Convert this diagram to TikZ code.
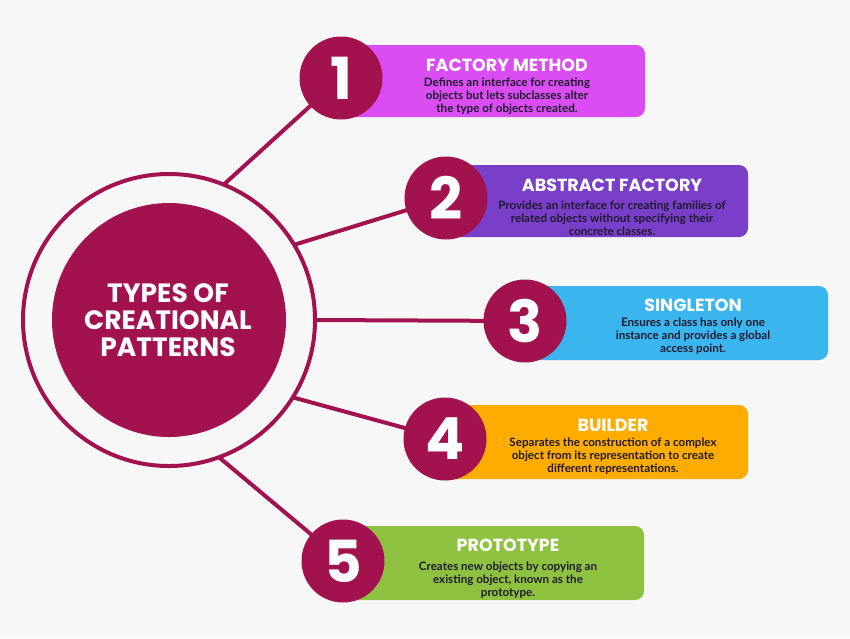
\documentclass[tikz,border=0pt]{standalone}
\usepackage{fontspec}
\setmainfont{Lato}
\newfontfamily\headfont{Poppins}
\definecolor{bgc}{HTML}{F7F7F7}
\definecolor{crim}{HTML}{A1124F}
\definecolor{cfm}{HTML}{DA4DF2}
\definecolor{caf}{HTML}{7A3FC8}
\definecolor{csg}{HTML}{3BB5EE}
\definecolor{cbd}{HTML}{FFAC00}
\definecolor{cpt}{HTML}{8EC13F}
\definecolor{txt}{HTML}{1F1A2E}
\tikzset{
  numc/.style={circle, fill=crim, minimum size=83pt, inner sep=0pt, text=white,
    font=\headfont\bfseries\fontsize{58}{58}\selectfont},
  boxc/.style={rounded corners=9pt, draw=none},
  ttl/.style={text=white, font=\headfont\bfseries\fontsize{17.5}{20}\selectfont, anchor=center},
  bdy/.style={text=txt, align=center, font=\bfseries\fontsize{11.6}{12.8}\selectfont, anchor=center},
  conn/.style={crim, line width=4pt}
}
\begin{document}
\begin{tikzpicture}[x=1pt,y=-1pt]
\fill[bgc] (0,0) rectangle (850,638);
\useasboundingbox (0,0) rectangle (850,638);
% central
\node[circle, draw=crim, line width=4pt, minimum size=292pt, inner sep=0pt, outer sep=0pt] (ring) at (169,320) {};
\node[circle, fill=crim, minimum size=234pt, inner sep=0pt] (core) at (169,320) {};
\node[text=white, align=center, font=\headfont\bfseries\fontsize{26.5}{27}\selectfont] (ctitle) at (168,320) {TYPES OF\\CREATIONAL\\PATTERNS};
% centres of number circles
\coordinate (c1) at (341,78);
\coordinate (c2) at (446,198);
\coordinate (c3) at (525,321);
\coordinate (c4) at (445,439);
\coordinate (c5) at (343,561);
% connectors
\draw[conn] (ring.68.6) -- (c1);
\draw[conn] (ring.31) -- (c2);
\draw[conn] (ring.0) -- (c3);
\draw[conn] (ring.-32.8) -- (c4);
\draw[conn] (ring.-70.6) -- (c5);
% boxes
\fill[boxc, cfm] (330,45) rectangle (645,117);
\fill[boxc, caf] (430,165) rectangle (748,237);
\fill[boxc, csg] (510,286) rectangle (828,360);
\fill[boxc, cbd] (430,405) rectangle (748,479);
\fill[boxc, cpt] (330,526) rectangle (644,600);
% number circles
\node[numc] (n1) at (c1) {1};
\node[numc] (n2) at (c2) {2};
\node[numc] (n3) at (c3) {3};
\node[numc] (n4) at (c4) {4};
\node[numc] (n5) at (c5) {5};
% texts
\node[ttl] (t1) at (507,65) {FACTORY METHOD};
\node[bdy] (d1) at (507,96) {Defines an interface for creating\\objects but lets subclasses alter\\the type of objects created.};
\node[ttl] (t2) at (612,185) {ABSTRACT FACTORY};
\node[bdy] (d2) at (612,218) {Provides an interface for creating families of\\related objects without specifying their\\concrete classes.};
\node[ttl] (t3) at (693,305) {SINGLETON};
\node[bdy] (d3) at (693,336) {Ensures a class has only one\\instance and provides a global\\access point.};
\node[ttl] (t4) at (613,425) {BUILDER};
\node[bdy] (d4) at (613,456) {Separates the construction of a complex\\object from its representation to create\\different representations.};
\node[ttl] (t5) at (508,545) {PROTOTYPE};
\node[bdy] (d5) at (508,580) {Creates new objects by copying an\\existing object, known as the\\prototype.};
\end{tikzpicture}
\end{document}
